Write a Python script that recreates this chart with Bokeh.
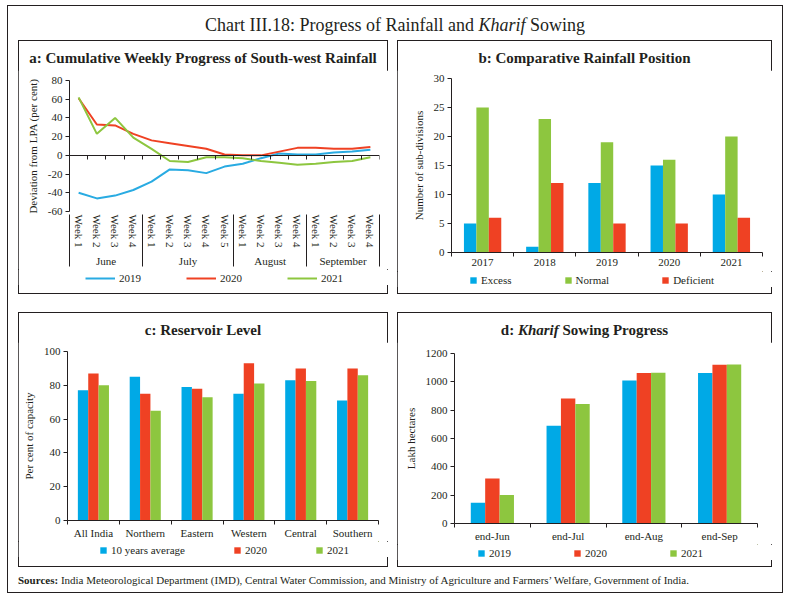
import numpy as np
from bokeh.plotting import figure
from bokeh.models import (ColumnDataSource, Range1d, LinearAxis, FixedTicker,
                          Legend, LegendItem, Div, Spacer)
from bokeh.layouts import column, row
from bokeh.transform import dodge
from bokeh.embed import file_html
from bokeh.resources import INLINE

FONT = "Liberation Serif"
TXT = "#231F20"
BLUE = "#00A9E6"
RED = "#EF4123"
GREEN = "#8DC63F"

# ---------------- data ----------------
# a: cumulative weekly progress of south-west rainfall (deviation from LPA, per cent)
months_a = ["June", "July", "August", "September"]
weeks_per_month_a = [4, 5, 4, 4]
dev_2019 = [-40, -46, -43, -37, -28, -15, -16, -19, -12, -9, -3, 2, 1, 1, 3, 4, 6]
dev_2020 = [61, 33, 32, 23, 16, 13, 10, 7, 1, 0, 0, 4, 8, 8, 7, 7, 9]
dev_2021 = [62, 23, 40, 19, 7, -6, -7, -2, -2, -3, -6, -8, -10, -9, -7, -6, -2]
a_yticks = [-60, -40, -20, 0, 20, 40, 60, 80]

# b: comparative rainfall position (number of sub-divisions)
years_b = ["2017", "2018", "2019", "2020", "2021"]
excess_b = [5, 1, 12, 15, 10]
normal_b = [25, 23, 19, 16, 20]
deficient_b = [6, 12, 5, 5, 6]
b_yticks = [0, 5, 10, 15, 20, 25, 30]

# c: reservoir level (per cent of capacity)
regions_c = ["All India", "Northern", "Eastern", "Western", "Central", "Southern"]
avg10_c = [77, 85, 79, 75, 83, 71]
y2020_c = [87, 75, 78, 93, 90, 90]
y2021_c = [80, 65, 73, 81, 82.5, 86]
c_yticks = [0, 20, 40, 60, 80, 100]

# d: kharif sowing progress (lakh hectares)
periods_d = ["end-Jun", "end-Jul", "end-Aug", "end-Sep"]
y2019_d = [146, 690, 1010, 1063]
y2020_d = [318, 882, 1063, 1121]
y2021_d = [202, 843, 1065, 1123]
d_yticks = [0, 200, 400, 600, 800, 1000, 1200]


def base_fig(w, h, n, y_range, ml, mr, mt, mb):
    p = figure(width=w, height=h, x_range=Range1d(0, n), y_range=y_range,
               output_backend="svg", toolbar_location=None,
               min_border_left=ml, min_border_right=mr, min_border_top=mt, min_border_bottom=mb)
    p.xgrid.visible = False
    p.ygrid.visible = False
    p.outline_line_color = None
    p.background_fill_color = "white"
    p.border_fill_color = "white"
    return p


def style_y(p, ticks, label):
    ax = p.yaxis[0]
    ax.ticker = FixedTicker(ticks=ticks)
    ax.major_label_overrides = {t: str(t) for t in ticks}
    ax.major_tick_in = 0
    ax.major_tick_out = 4
    ax.minor_tick_line_color = None
    ax.axis_line_color = TXT
    ax.major_tick_line_color = TXT
    ax.major_label_text_font = FONT
    ax.major_label_text_font_size = "11px"
    ax.major_label_text_color = TXT
    ax.major_label_standoff = 3
    ax.axis_label = label
    ax.axis_label_text_font = FONT
    ax.axis_label_text_font_size = "11px"
    ax.axis_label_text_font_style = "normal"
    ax.axis_label_text_color = TXT
    ax.axis_label_standoff = 6


def label_axis(ax, labels, standoff, boundaries=None):
    centers = [i + 0.5 for i in range(len(labels))]
    ax.ticker = FixedTicker(ticks=centers, minor_ticks=boundaries if boundaries is not None else [])
    ax.major_label_overrides = {c: l for c, l in zip(centers, labels)}
    ax.major_tick_in = 0
    ax.major_tick_out = 0
    ax.major_tick_line_color = None
    ax.minor_tick_in = 0
    ax.minor_tick_out = 4 if boundaries is not None else 0
    ax.minor_tick_line_color = TXT if boundaries is not None else None
    ax.axis_line_color = TXT if boundaries is not None else None
    ax.major_label_standoff = standoff
    ax.major_label_text_font = FONT
    ax.major_label_text_font_size = "11px"
    ax.major_label_text_color = TXT
    return ax


def legend_fig(w, src, entries, kind, glyph_w, glyph_h, spacing, vx):
    """Strip holding the panel's legend; its view range lies away from the data,
    so the series glyphs only supply the legend swatches."""
    lf = figure(width=w, height=16, x_range=Range1d(-3, -2), y_range=Range1d(-5000, -4999),
                x_axis_type=None, y_axis_type=None, output_backend="svg",
                toolbar_location=None, min_border=0)
    lf.outline_line_color = None
    lf.xgrid.visible = False
    lf.ygrid.visible = False
    lf.background_fill_color = "white"
    lf.border_fill_color = "white"
    items = []
    for label, color, field in entries:
        if kind == "line":
            r = lf.line("x", field, source=src, line_color=color, line_width=2)
        else:
            r = lf.vbar(x="x", top=field, width=0.2, source=src, fill_color=color, line_color=None)
        items.append(LegendItem(label=label, renderers=[r]))
    lg = Legend(items=items, orientation="horizontal", location=(vx, 1),
                glyph_width=glyph_w, glyph_height=glyph_h, spacing=spacing,
                label_standoff=4, label_text_font=FONT, label_text_font_size="11px",
                label_text_color=TXT, border_line_color=None, background_fill_alpha=0,
                padding=0, margin=0)
    lf.add_layout(lg, "center")
    return lf


def panel(title_html, fig, lfig, w, pad):
    d = Div(text=(f'<div style="font-family:{FONT};font-weight:bold;font-size:15px;color:{TXT};'
                  f'text-align:center;width:{w}px;padding-top:7px;line-height:22px;white-space:nowrap;">'
                  f'{title_html}</div>'), width=w, height=30, margin=0)
    return column(d, fig, lfig, Spacer(width=w, height=pad),
                  styles={"outline": f"1px solid {TXT}", "outline-offset": "-1px",
                          "background-color": "white"})


# ---------------- panel a ----------------
week_labels_a = [f"Week {i + 1}" for n in weeks_per_month_a for i in range(n)]
n_a = len(week_labels_a)
bounds_a = np.cumsum([0] + weeks_per_month_a).tolist()
group_centers_a = [(bounds_a[i] + bounds_a[i + 1]) / 2 for i in range(len(months_a))]
pa = base_fig(370, 199, n_a, Range1d(-60, 80), 51, 9, 10, 54)
src_a = ColumnDataSource(dict(x=np.arange(n_a) + 0.5, y19=dev_2019, y20=dev_2020, y21=dev_2021))
pa.line("x", "y19", source=src_a, line_color="#29ABE2", line_width=2)
pa.line("x", "y20", source=src_a, line_color=RED, line_width=2)
pa.line("x", "y21", source=src_a, line_color=GREEN, line_width=2)
style_y(pa, a_yticks, "Deviation from LPA (per cent)")
axa = label_axis(pa.xaxis[0], week_labels_a, 3)
axa.major_label_orientation = "vertical"
# month labels, with group separators drawn as minor ticks
grp = LinearAxis(ticker=FixedTicker(ticks=group_centers_a, minor_ticks=bounds_a),
                 major_label_overrides={c: m for c, m in zip(group_centers_a, months_a)},
                 major_tick_in=0, major_tick_out=0, major_tick_line_color=None,
                 minor_tick_in=36, minor_tick_out=16, minor_tick_line_color=TXT,
                 axis_line_color=None, major_label_standoff=-12,
                 major_label_text_font=FONT, major_label_text_font_size="11px",
                 major_label_text_color=TXT)
pa.add_layout(grp, "below")
# zero line with week boundary ticks
zero_ax = LinearAxis(fixed_location=0, ticker=FixedTicker(ticks=list(range(0, n_a + 1))),
                     major_tick_in=0, major_tick_out=4, minor_tick_line_color=None,
                     major_label_text_color=None, axis_line_color=TXT, major_tick_line_color=TXT)
pa.add_layout(zero_ax, "below")
la = legend_fig(370, src_a, [("2019", "#29ABE2", "y19"), ("2020", RED, "y20"), ("2021", GREEN, "y21")],
                "line", 30, 10, 45, 16)

# ---------------- panel b ----------------
n_b = len(years_b)
pb = base_fig(375, 201, n_b, Range1d(0, 30), 54, 10, 8, 19)
src_b = ColumnDataSource(dict(x=np.arange(n_b) + 0.5, e=excess_b, n=normal_b, d=deficient_b))
pb.vbar(x=dodge("x", -0.2), top="e", width=0.2, source=src_b, fill_color=BLUE, line_color=None)
pb.vbar(x=dodge("x", 0.0), top="n", width=0.2, source=src_b, fill_color=GREEN, line_color=None)
pb.vbar(x=dodge("x", 0.2), top="d", width=0.2, source=src_b, fill_color=RED, line_color=None)
style_y(pb, b_yticks, "Number of sub-divisions")
label_axis(pb.xaxis[0], years_b, 2, list(range(0, n_b + 1)))
lb = legend_fig(375, src_b, [("Excess", BLUE, "e"), ("Normal", GREEN, "n"), ("Deficient", RED, "d")],
                "bar", 8, 8, 52, 18)

# ---------------- panel c ----------------
n_c = len(regions_c)
pc = base_fig(370, 199, n_c, Range1d(0, 100), 49, 10, 9, 19)
src_c = ColumnDataSource(dict(x=np.arange(n_c) + 0.5, a=avg10_c, b=y2020_c, c=y2021_c))
pc.vbar(x=dodge("x", -0.2), top="a", width=0.2, source=src_c, fill_color=BLUE, line_color=None)
pc.vbar(x=dodge("x", 0.0), top="b", width=0.2, source=src_c, fill_color=RED, line_color=None)
pc.vbar(x=dodge("x", 0.2), top="c", width=0.2, source=src_c, fill_color=GREEN, line_color=None)
style_y(pc, c_yticks, "Per cent of capacity")
label_axis(pc.xaxis[0], regions_c, 2, list(range(0, n_c + 1)))
lc = legend_fig(370, src_c, [("10 years average", BLUE, "a"), ("2020", RED, "b"), ("2021", GREEN, "c")],
                "bar", 8, 8, 48, 32)

# ---------------- panel d ----------------
n_d = len(periods_d)
pd_ = base_fig(375, 202, n_d, Range1d(0, 1200), 57, 15, 11, 19)
src_d = ColumnDataSource(dict(x=np.arange(n_d) + 0.5, a=y2019_d, b=y2020_d, c=y2021_d))
pd_.vbar(x=dodge("x", -0.19), top="a", width=0.19, source=src_d, fill_color=BLUE, line_color=None)
pd_.vbar(x=dodge("x", 0.0), top="b", width=0.19, source=src_d, fill_color=RED, line_color=None)
pd_.vbar(x=dodge("x", 0.19), top="c", width=0.19, source=src_d, fill_color=GREEN, line_color=None)
style_y(pd_, d_yticks, "Lakh hectares")
label_axis(pd_.xaxis[0], periods_d, 2, list(range(0, n_d + 1)))
ld = legend_fig(375, src_d, [("2019", BLUE, "a"), ("2020", RED, "b"), ("2021", GREEN, "c")],
                "bar", 8, 8, 62, 23)

# ---------------- page layout ----------------
W = 776
title_div = Div(text=(f'<div style="font-family:{FONT};font-size:18px;color:{TXT};text-align:center;'
                      f'width:{W}px;padding-top:4px;line-height:32px;white-space:nowrap;">'
                      f'Chart III.18: Progress of Rainfall and <i>Kharif</i> Sowing</div>'),
                width=W, height=35, margin=0)
src_div = Div(text=(f'<div style="font-family:{FONT};font-size:11px;color:{TXT};padding-left:11px;'
                    f'line-height:26px;white-space:nowrap;"><b>Sources:</b> India Meteorological '
                    f'Department (IMD), Central Water Commission, and Ministry of Agriculture and '
                    f'Farmers\u2019 Welfare, Government of India.</div>'),
              width=W, height=26, margin=0)

row1 = row(Spacer(width=11, height=254),
           panel("a: Cumulative Weekly Progress of South-west Rainfall", pa, la, 370, 9),
           Spacer(width=9, height=254),
           panel("b: Comparative Rainfall Position", pb, lb, 375, 7),
           Spacer(width=11, height=254))
row2 = row(Spacer(width=11, height=255),
           panel("c: Reservoir Level", pc, lc, 370, 10),
           Spacer(width=9, height=255),
           panel("d: <i>Kharif</i> Sowing Progress", pd_, ld, 375, 7),
           Spacer(width=11, height=255))
page = column(title_div, row1, Spacer(width=W, height=18), row2, src_div, margin=(5, 0, 0, 7),
              styles={"outline": f"1px solid {TXT}", "outline-offset": "-1px",
                      "background-color": "white"})

open("out.html", "w").write(file_html(page, INLINE))
